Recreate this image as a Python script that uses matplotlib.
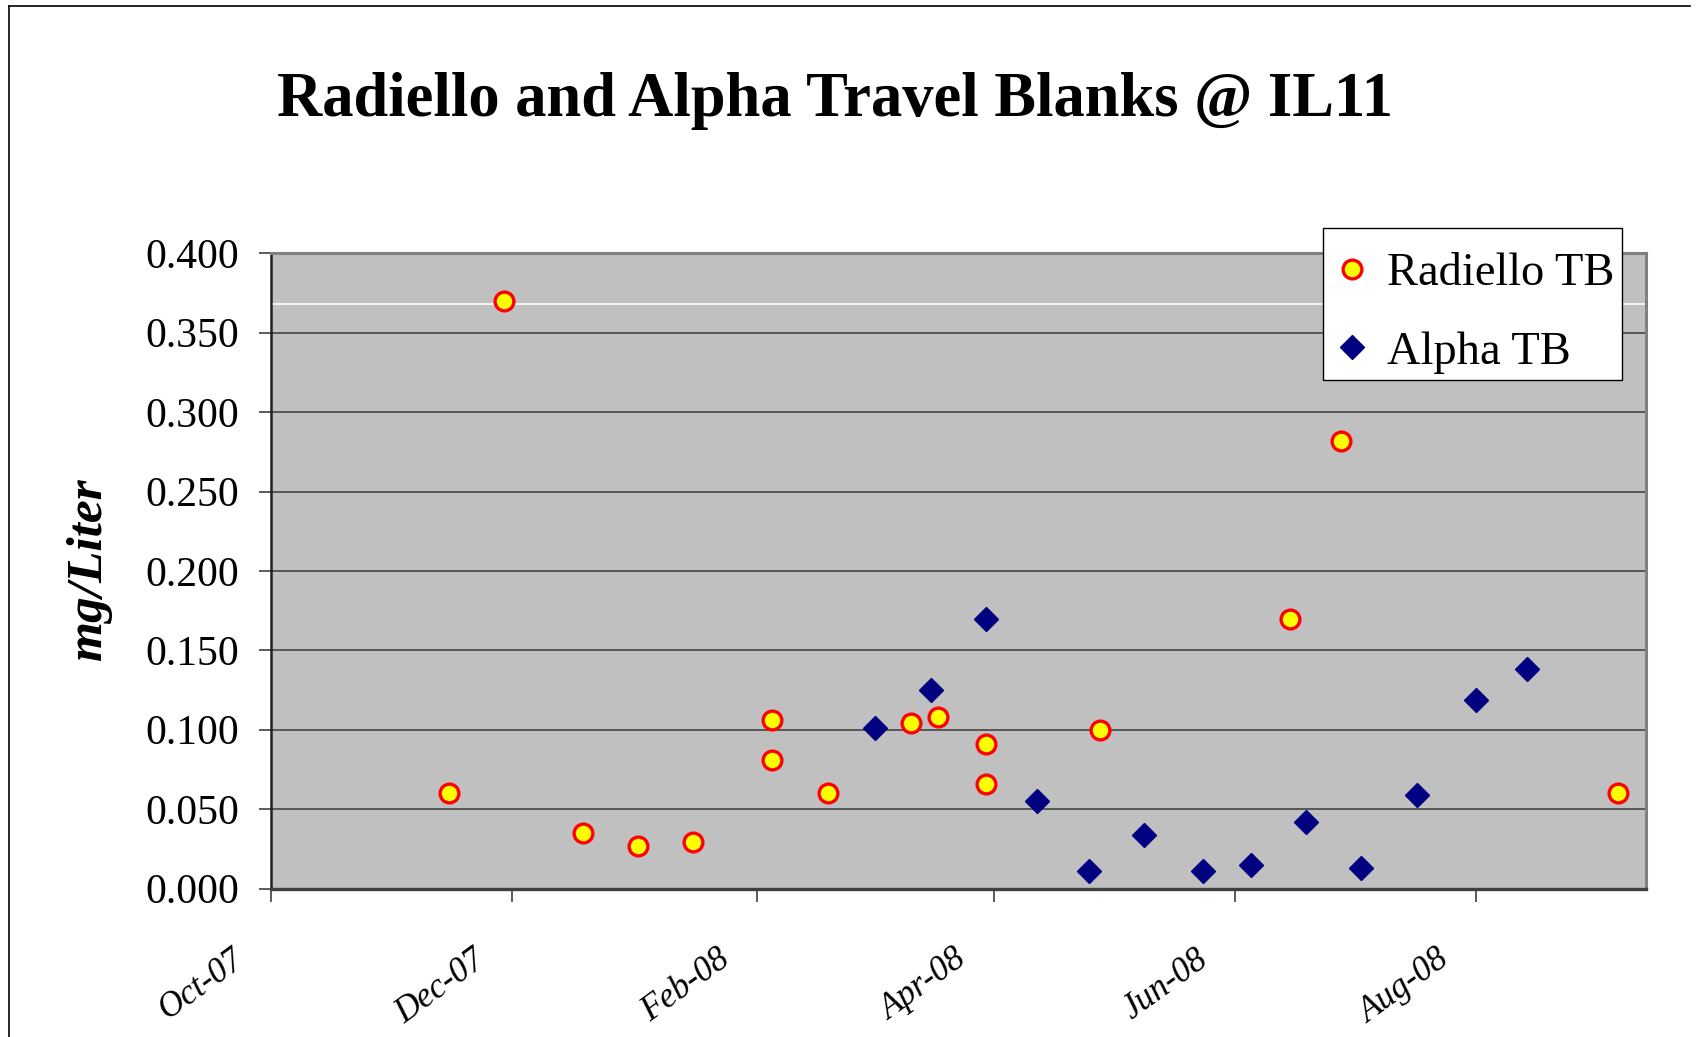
import datetime as dt
import matplotlib
matplotlib.use("Agg")
import matplotlib.pyplot as plt
import matplotlib.dates as mdates
from matplotlib.lines import Line2D
from matplotlib.patches import Rectangle
from matplotlib.transforms import ScaledTranslation

# data (mg/Liter)
radiello_dates = ["2007-11-15", "2007-11-29", "2007-12-19", "2008-01-02", "2008-01-16",
                  "2008-02-05", "2008-02-05", "2008-02-19", "2008-03-11", "2008-03-18",
                  "2008-03-30", "2008-03-30", "2008-04-28", "2008-06-15", "2008-06-28",
                  "2008-09-06"]
radiello_vals = [0.060, 0.370, 0.035, 0.027, 0.029,
                 0.106, 0.081, 0.060, 0.104, 0.108,
                 0.091, 0.066, 0.100, 0.170, 0.282,
                 0.060]

alpha_dates = ["2008-03-02", "2008-03-16", "2008-03-30", "2008-04-12", "2008-04-25",
               "2008-05-09", "2008-05-24", "2008-06-05", "2008-06-19", "2008-07-03",
               "2008-07-17", "2008-08-01", "2008-08-14"]
alpha_vals = [0.101, 0.125, 0.170, 0.055, 0.011,
              0.034, 0.011, 0.015, 0.042, 0.013,
              0.059, 0.119, 0.138]

y_ticks = [0.0, 0.05, 0.10, 0.15, 0.20, 0.25, 0.30, 0.35, 0.40]
white_line = 0.368
x_start = "2007-10-01"
x_end = "2008-09-13"

to_date = lambda s: dt.datetime.strptime(s, "%Y-%m-%d")

serif = "Liberation Serif"
W, H = 1702, 1037
fig = plt.figure(figsize=(W / 100, H / 100), dpi=100)

# outer chart border (left and top edges visible)
fig.add_artist(Line2D([9 / W, 9 / W], [0, 1 - 6 / H], color="black", lw=1.2,
                      transform=fig.transFigure))
fig.add_artist(Line2D([9 / W, 1690 / W], [1 - 6 / H, 1 - 6 / H], color="black", lw=1.2,
                      transform=fig.transFigure))

ax = fig.add_axes([270.7 / W, 1 - 888.5 / H, (1645.7 - 270.7) / W, (888.5 - 253.3) / H])
ax.set_facecolor("#c0c0c0")

for y in y_ticks[1:-1]:
    ax.axhline(y, color="#3a3a3a", lw=1.1, zorder=1)
ax.axhline(white_line, color="white", lw=1.2, zorder=1)

ax.plot([to_date(d) for d in radiello_dates], radiello_vals, linestyle="none",
        marker="o", ms=13.5, mfc="#ffff00", mec="#ff0000", mew=2.4,
        label="Radiello TB", zorder=3)
ax.plot([to_date(d) for d in alpha_dates], alpha_vals, linestyle="none",
        marker="D", ms=12, mfc="#000080", mec="#000080", mew=1,
        label="Alpha TB", zorder=3)

ax.set_xlim(to_date(x_start), to_date(x_end))
ax.set_ylim(0, 0.4)
ax.set_yticks(y_ticks)
ax.yaxis.set_major_formatter(matplotlib.ticker.FormatStrFormatter("%.3f"))
ax.xaxis.set_major_locator(mdates.MonthLocator(bymonth=[2, 4, 6, 8, 10, 12]))
ax.xaxis.set_major_formatter(mdates.DateFormatter("%b-%y"))

for side in ["top", "right"]:
    ax.spines[side].set_color("#808080")
    ax.spines[side].set_linewidth(2.2)
ax.spines["left"].set_color("#202020")
ax.spines["left"].set_linewidth(1.8)
ax.spines["bottom"].set_color("#404040")
ax.spines["bottom"].set_linewidth(2.4)

ax.tick_params(axis="y", direction="out", length=9, width=1.2, color="#404040",
               pad=14, labelsize=30)
ax.tick_params(axis="x", direction="out", length=9, width=1.2, color="#404040",
               pad=40, labelsize=25)
for lab in ax.get_yticklabels():
    lab.set_fontfamily(serif)
offset = ScaledTranslation(-30 / 100, 0, fig.dpi_scale_trans)
for lab in ax.get_xticklabels():
    lab.set_fontfamily(serif)
    lab.set_fontstyle("italic")
    lab.set_rotation(36)
    lab.set_ha("right")
    lab.set_va("center")
    lab.set_rotation_mode("anchor")
    lab.set_transform(lab.get_transform() + offset)

fig.text(89 / W, 1 - 570 / H, "mg/Liter", rotation=90, ha="center", va="center",
         fontsize=37, fontweight="bold", fontstyle="italic", family=serif)

fig.text(835 / W, 1 - 101 / H, "Radiello and Alpha Travel Blanks @ IL11", ha="center",
         va="center", fontsize=45, fontweight="bold", family=serif)

# legend frame drawn separately so the entries can sit where they do in the original
ax.add_patch(Rectangle((1323 / W, 1 - 380 / H), (1622 - 1323) / W, (380 - 228) / H,
                       transform=fig.transFigure, facecolor="white", clip_on=False,
                       edgecolor="black", lw=1.0, zorder=4))
leg = ax.legend(loc="center", bbox_to_anchor=(1476 / W, 1 - 313 / H),
                bbox_transform=fig.transFigure, frameon=False, borderaxespad=0,
                prop={"family": serif, "size": 33.5}, handlelength=0.6,
                handletextpad=0.45, labelspacing=0.78, borderpad=0)
leg.set_zorder(5)

fig.savefig("out.png", dpi=100)
